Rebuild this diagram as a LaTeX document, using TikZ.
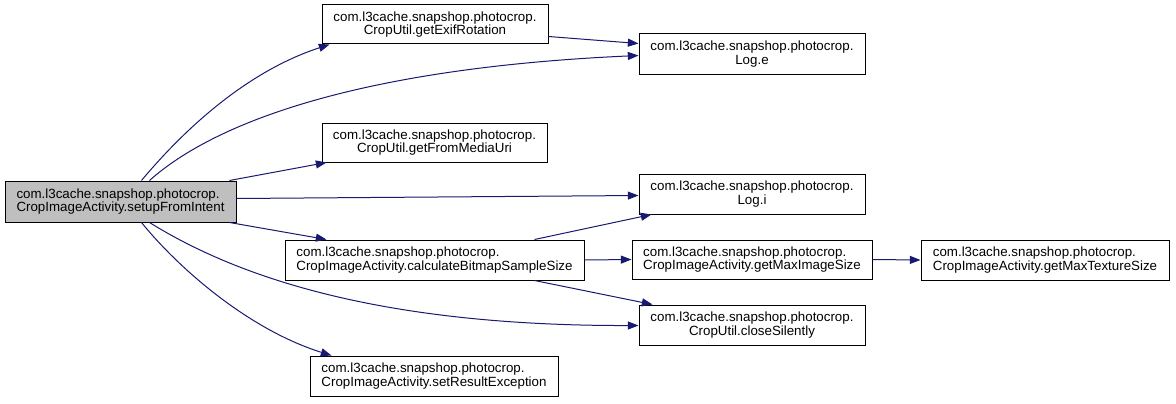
\documentclass[tikz,border=0pt]{standalone}
\usepackage{fontspec}
\setmainfont{Liberation Sans}
\usetikzlibrary{arrows.meta,calc}
\definecolor{edgeblue}{HTML}{191970}
\definecolor{hilite}{HTML}{BFBFBF}
\begin{document}
\begin{tikzpicture}[x=0.75pt,y=-0.75pt,
  box/.style={draw=black,line width=0.75pt,fill=white,inner sep=0pt,
    font=\fontsize{10}{10.2}\selectfont},
  call/.style={draw=edgeblue,line width=0.75pt,
    -{Triangle[length=8pt,width=6pt]}}]
\useasboundingbox[fill=white] (0,0) rectangle (1176,403);
\node[box,fill=hilite,align=left,minimum width=173.25pt,minimum height=30.75pt] (A) at (120.5,201.5)
  {com.l3cache.snapshop.photocrop.\\CropImageActivity.setupFromIntent};
\node[box,align=center,minimum width=169.5pt,minimum height=29.25pt] (B) at (435,24.5)
  {com.l3cache.snapshop.photocrop.\\CropUtil.getExifRotation};
\node[box,align=center,minimum width=169.5pt,minimum height=30pt] (C) at (752,54)
  {com.l3cache.snapshop.photocrop.\\Log.e};
\node[box,align=center,minimum width=168.75pt,minimum height=29.25pt] (D) at (434.5,142.5)
  {com.l3cache.snapshop.photocrop.\\CropUtil.getFromMediaUri};
\node[box,align=center,minimum width=169.5pt,minimum height=30pt] (E) at (752,194)
  {com.l3cache.snapshop.photocrop.\\Log.i};
\node[box,align=left,minimum width=224.25pt,minimum height=30pt] (F) at (434.5,260)
  {com.l3cache.snapshop.photocrop.\\CropImageActivity.calculateBitmapSampleSize};
\node[box,align=left,minimum width=180pt,minimum height=29.25pt] (G) at (752,259.5)
  {com.l3cache.snapshop.photocrop.\\CropImageActivity.getMaxImageSize};
\node[box,align=left,minimum width=186pt,minimum height=30pt] (H) at (1045,260)
  {com.l3cache.snapshop.photocrop.\\CropImageActivity.getMaxTextureSize};
\node[box,align=center,minimum width=169.5pt,minimum height=30pt] (I) at (752,325)
  {com.l3cache.snapshop.photocrop.\\CropUtil.closeSilently};
\node[box,align=left,minimum width=186pt,minimum height=30pt] (J) at (434,376)
  {com.l3cache.snapshop.photocrop.\\CropImageActivity.setResultException};
% connectors
\draw[call] ($(A.north west)+(137,0)$) .. controls (182,132) and (245,72) .. ($(B.south west)+(8,0)$);
\draw[call] ($(A.north west)+(145,0)$) .. controls (215,122) and (360,68) .. ($(C.north west)+(0,22)$);
\draw[call] ($(B.north east)+(0,32)$) -- ($(C.north west)+(0,10)$);
\draw[call] ($(A.north west)+(225,0)$) -- ($(D.south west)+(5,0)$);
\draw[call] ($(A.north east)+(0,18)$) -- ($(E.north west)+(0,22)$);
\draw[call] ($(A.south west)+(225,0)$) -- ($(F.north west)+(42,0)$);
\draw[call] ($(A.south west)+(145,0)$) .. controls (250,285) and (400,326) .. ($(I.north west)+(0,21)$);
\draw[call] ($(A.south west)+(137,0)$) .. controls (180,270) and (250,330) .. ($(J.north west)+(22,0)$);
\draw[call] ($(F.north west)+(250,0)$) -- ($(E.south west)+(13,0)$);
\draw[call] (F.east) -- (G.west);
\draw[call] ($(F.south west)+(250,0)$) -- ($(I.north west)+(14,0)$);
\draw[call] (G.east) -- (H.west);
\end{tikzpicture}
\end{document}
